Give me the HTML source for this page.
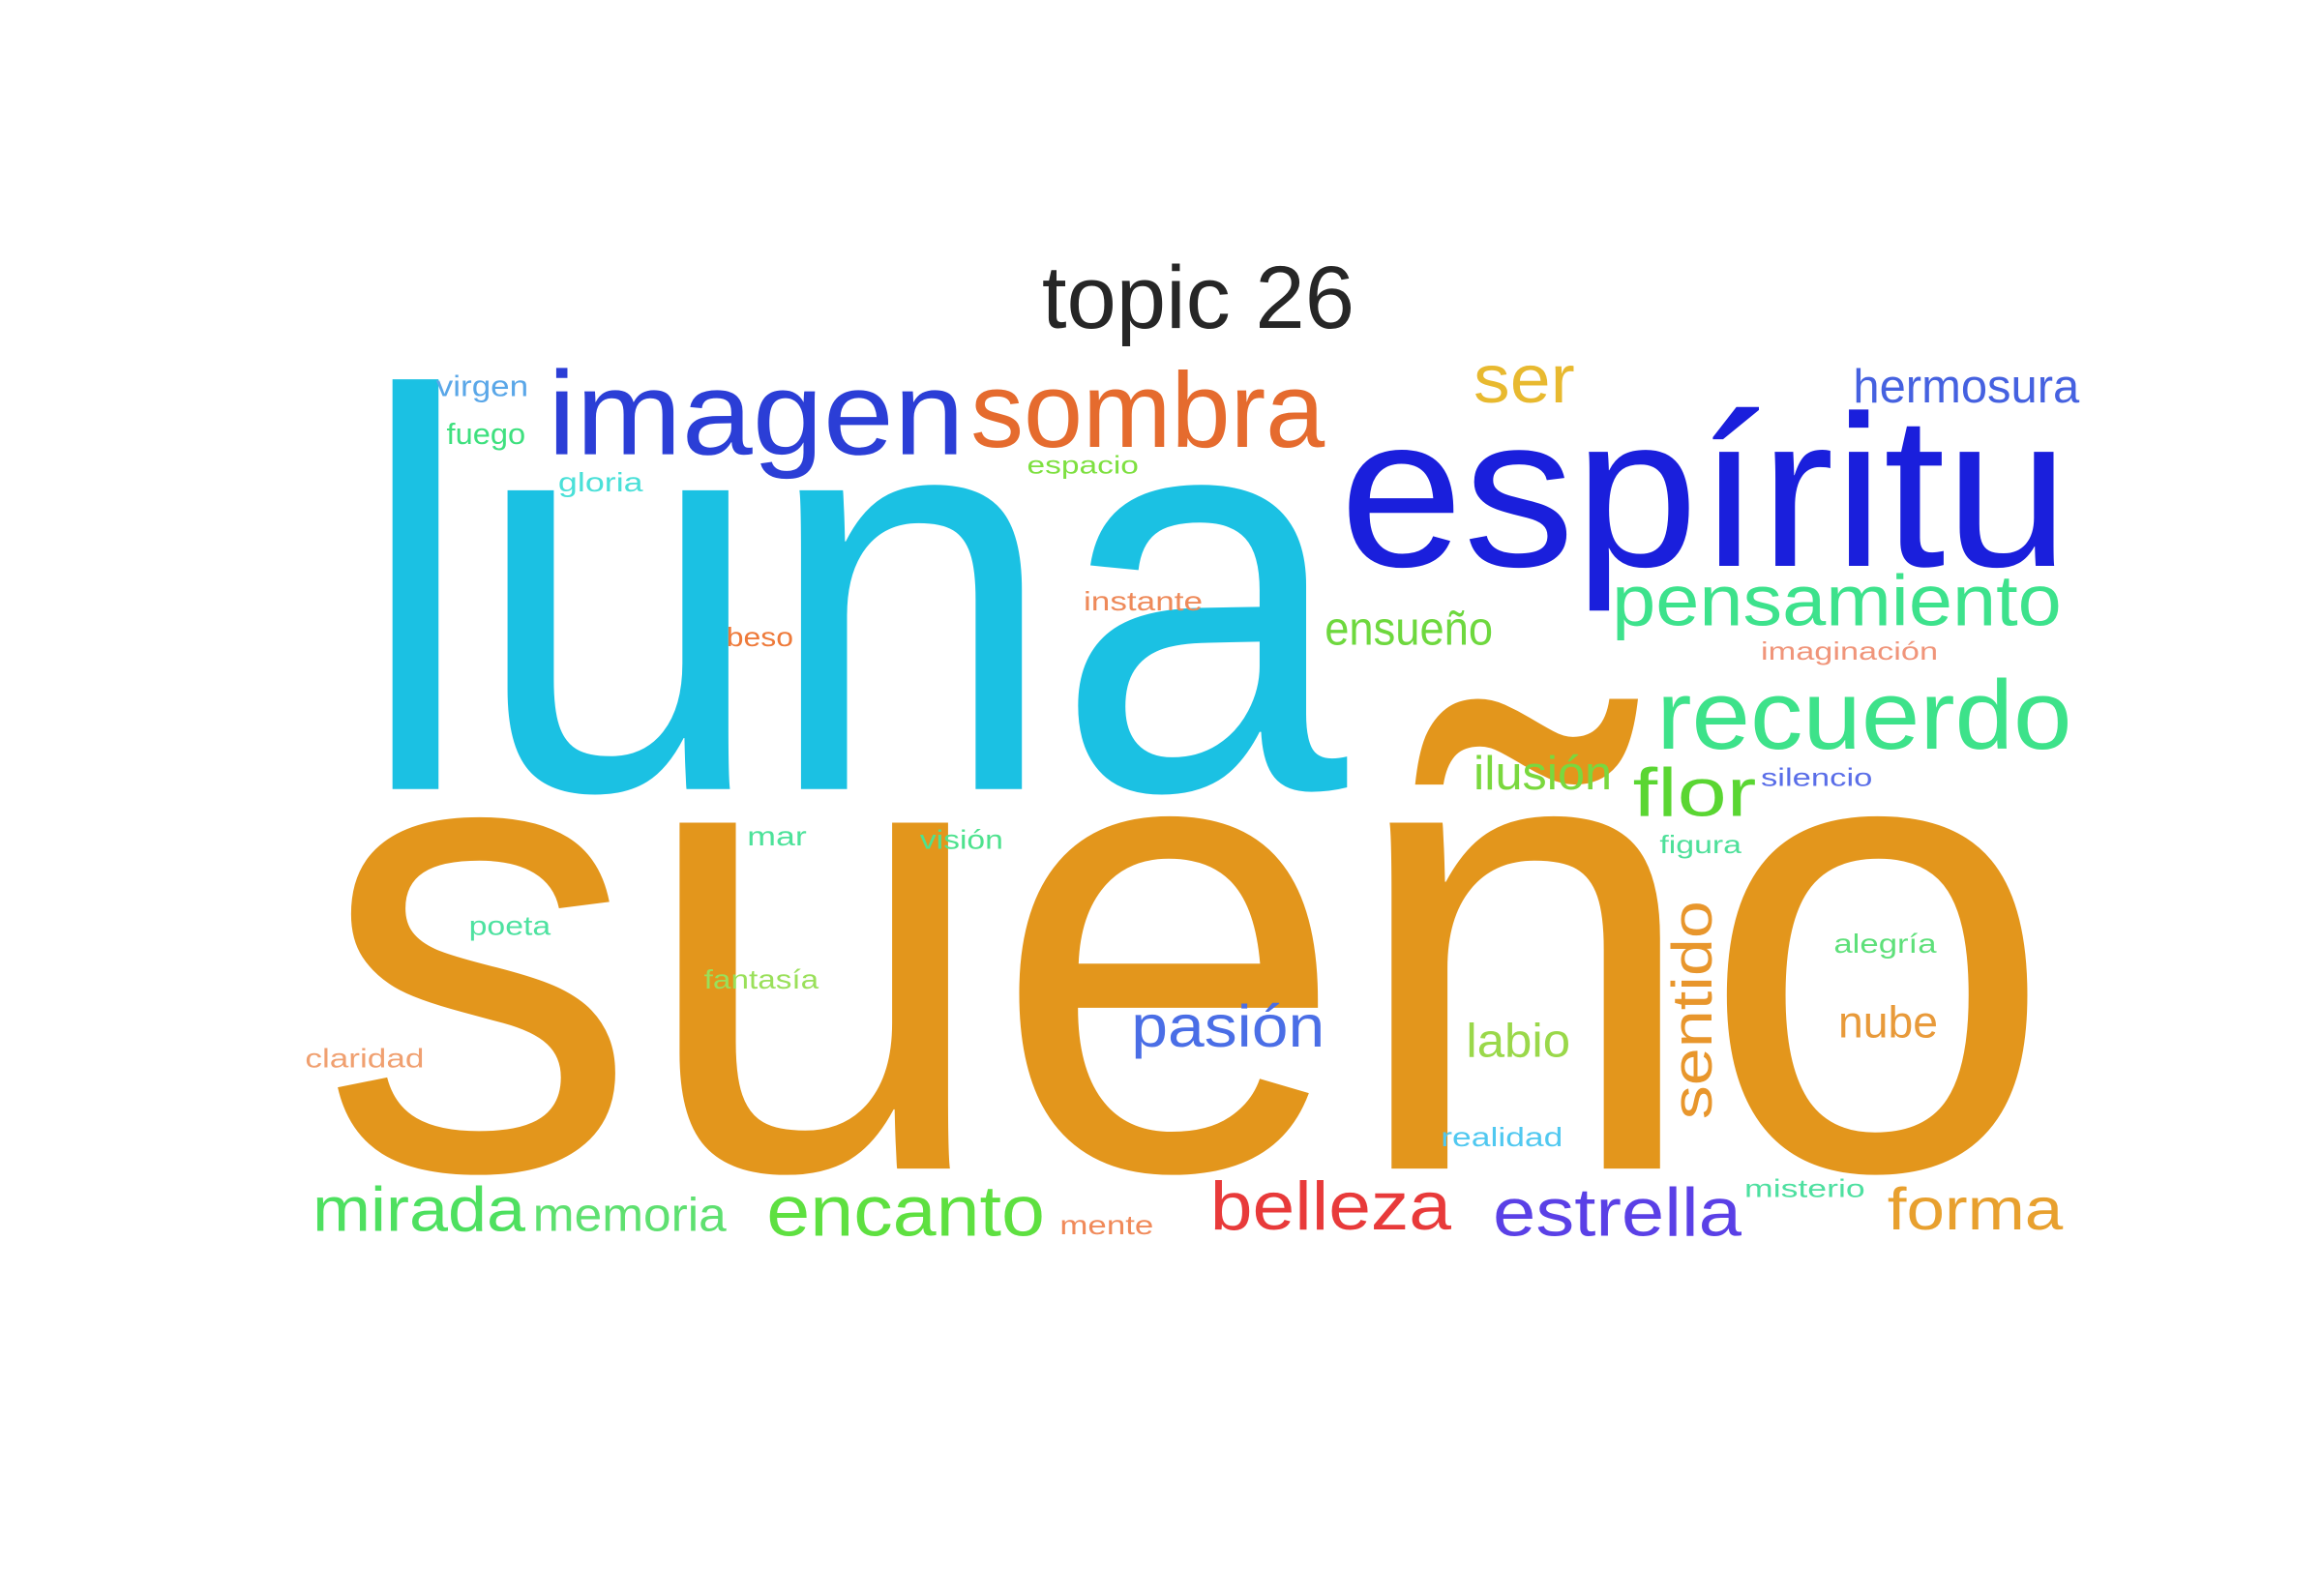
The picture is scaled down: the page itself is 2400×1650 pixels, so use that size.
<!DOCTYPE html>
<html>
<head>
<meta charset="utf-8">
<style>
html,body{margin:0;padding:0;background:#fff;}
svg{display:block;}
text{font-family:"Liberation Sans",sans-serif;}
</style>
</head>
<body>
<svg width="2400" height="1650" viewBox="0 0 1560 1072" xmlns="http://www.w3.org/2000/svg">
<rect width="1560" height="1072" fill="#fff"/>
<text x="805" y="220" font-size="60" fill="#262626" text-anchor="middle">topic 26</text>
<g id="cloud"></g>
</svg>
<script>
const words = ["luna","sueño","espíritu","imagen","sombra","ser","hermosura","virgen","fuego","gloria","espacio","pensamiento","instante","beso","ensueño","imaginación","recuerdo","ilusión","flor","silencio","mar","visión","figura","poeta","alegría","fantasía","pasión","nube","labio","claridad","realidad","misterio","mirada","memoria","encanto","mente","belleza","estrella","forma","sentido"];
const colors = ["#1bc1e3","#e3961c","#1a1fdc","#2b3ed6","#e56b2e","#e8b92f","#4561e0","#5aa7e8","#3ee07e","#4ae0d8","#7ee040","#3de28c","#ee8a5a","#ee7a3a","#6ed83e","#f0957a","#3de28a","#7ad83e","#5ad632","#5a6ee8","#4de29a","#4ee28e","#4ee09a","#4ee2a0","#5ee07a","#9ae05a","#4a6ee6","#e89a3a","#9ad84a","#f0a070","#50c8f0","#4ee0a0","#4ee060","#5ee070","#5ee040","#f08a5a","#e83a3a","#5a40e6","#e8a02e","#e8962c"];
const fontSizes = [380,440,145,80,72,46,32,20,20,18,17,48,18,18,32,17,66,32,46,17,18,18,17,18,18,18,40,30,32,18,18,17,42,32,48,18,46,46,40,38];
// layout boxes: [x0, x1, baseline]
const boxes = [[240,905,530],[215,1380,785],[900,1390,380],[368,648,305],[652,890,300],[990,1058,270],[1245,1397,270],[293,355,266],[300,353,298],[375,432,330],[690,765,318],[1083,1385,420],[728,808,410],[488,533,434],[890,1003,433],[1183,1302,443],[1113,1392,503],[990,1083,530],[1097,1180,548],[1183,1258,528],[502,542,568],[618,674,570],[1115,1170,573],[315,370,628],[1232,1301,640],[473,550,664],[760,890,703],[1235,1302,697],[985,1055,710],[205,285,717],[968,1050,770],[1172,1253,804],[210,353,827],[358,488,827],[515,702,830],[712,775,829],[813,975,826],[1003,1170,830],[1268,1386,826],[605,752,1150]];
const vertical = [false,false,false,false,false,false,false,false,false,false,false,false,false,false,false,false,false,false,false,false,false,false,false,false,false,false,false,false,false,false,false,false,false,false,false,false,false,false,false,true];
const g = document.getElementById('cloud');
const NS = "http://www.w3.org/2000/svg";
words.forEach((w,i)=>{
  const t = document.createElementNS(NS,'text');
  
  
  const b = boxes[i];
  t.setAttribute('font-size', fontSizes[i]);
  t.setAttribute('fill', colors[i]);
  t.setAttribute('textLength', b[1]-b[0]);
  t.setAttribute('lengthAdjust', 'spacingAndGlyphs');
  if (vertical[i]) {
    t.setAttribute('x', 0);
    t.setAttribute('y', 0);
    t.setAttribute('transform', 'translate(' + b[2] + ',' + b[1] + ') rotate(-90)');
  } else {
    t.setAttribute('x', b[0]);
    t.setAttribute('y', b[2]);
  }
  t.textContent = w;
  g.appendChild(t);
});
</script>
</body>
</html>
